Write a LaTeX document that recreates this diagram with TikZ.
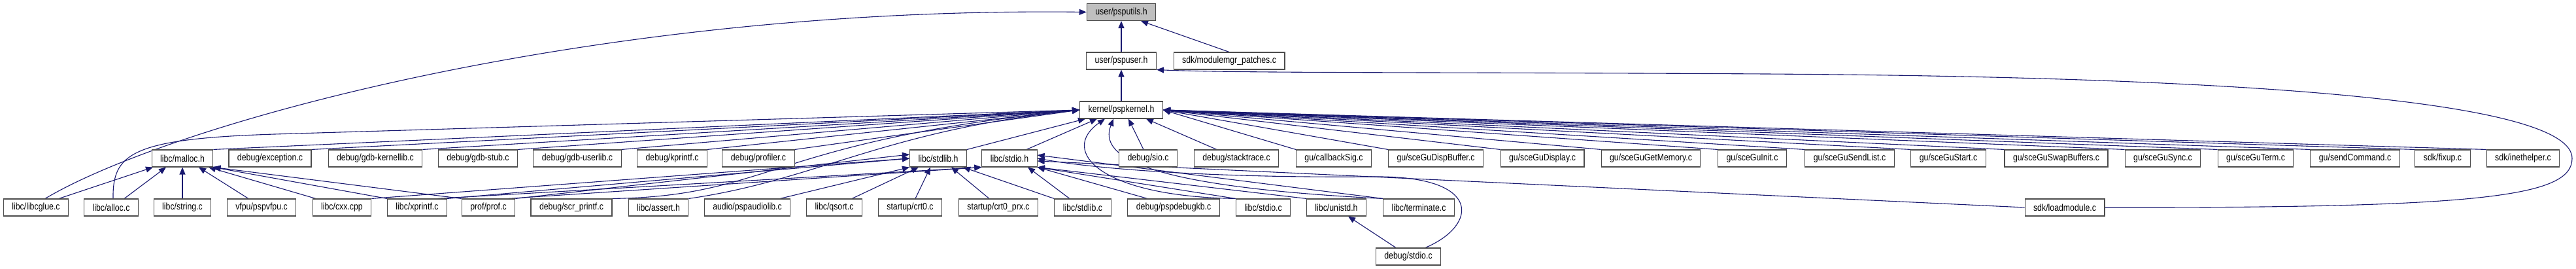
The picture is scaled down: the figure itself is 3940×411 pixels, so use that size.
\documentclass[tikz,border=0pt]{standalone}
\usepackage{fontspec}
\setmainfont{Liberation Sans}[FakeStretch=0.85]
\usepackage{tikz}
\usetikzlibrary{arrows.meta}
\definecolor{edgeblue}{HTML}{191970}
\pgfdeclarelayer{back}
\pgfsetlayers{back,main}

\begin{document}
\begin{tikzpicture}[x=1pt, y=-1pt, box/.style={draw=black!70, fill=white, line width=1.1pt, minimum height=26pt, inner xsep=13pt, inner ysep=0pt, font=\fontsize{14.5}{16}\selectfont}, dep/.style={draw=edgeblue, line width=1.1pt, -{Triangle[length=11pt, width=9pt]}}]
        \useasboundingbox (0,0) rectangle (3940,411);

        % top of the chain
        \node[box, fill=black!25] (utils) at (1715,18.5) {user/psputils.h};
        \node[box] (user) at (1715,93) {user/pspuser.h};
        \node[box] (modpatch) at (1880,93) {sdk/modulemgr\_patches.c};
        \node[box] (kernel) at (1715,168) {kernel/pspkernel.h};

        % second row
        \foreach \n/\x/\t in {malloc/279/{libc/malloc.h}, except/413/{debug/exception.c}, gdbkl/574/{debug/gdb-kernellib.c}, gdbstub/731/{debug/gdb-stub.c}, gdbul/883/{debug/gdb-userlib.c}, kprintf/1028/{debug/kprintf.c}, profiler/1160/{debug/profiler.c}, stdlibh/1435/{libc/stdlib.h}, stdioh/1544/{libc/stdio.h}, sio/1756/{debug/sio.c}, stacktr/1891/{debug/stacktrace.c}, cbsig/2040/{gu/callbackSig.c}, dispbuf/2196/{gu/sceGuDispBuffer.c}, display/2359/{gu/sceGuDisplay.c}, getmem/2525/{gu/sceGuGetMemory.c}, guinit/2680/{gu/sceGuInit.c}, sendlist/2829/{gu/sceGuSendList.c}, gustart/2980/{gu/sceGuStart.c}, swapbuf/3145/{gu/sceGuSwapBuffers.c}, gusync/3308/{gu/sceGuSync.c}, guterm/3450/{gu/sceGuTerm.c}, sendcmd/3602/{gu/sendCommand.c}, fixup/3736/{sdk/fixup.c}, inethlp/3859/{sdk/inethelper.c}}
            \node[box] (\n) at (\x,242) {\t};

        % third row
        \foreach \n/\x/\t in {libcglue/55/{libc/libcglue.c}, alloc/170/{libc/alloc.c}, string/279/{libc/string.c}, vfpu/400/{vfpu/pspvfpu.c}, cxx/523/{libc/cxx.cpp}, xprintf/638/{libc/xprintf.c}, prof/747/{prof/prof.c}, scrpf/874/{debug/scr\_printf.c}, asserth/1007/{libc/assert.h}, audio/1143/{audio/pspaudiolib.c}, qsort/1276/{libc/qsort.c}, crt0/1392/{startup/crt0.c}, crt0prx/1527/{startup/crt0\_prx.c}, stdlibc/1656/{libc/stdlib.c}, debugkb/1795/{debug/pspdebugkb.c}, stdioc/1932/{libc/stdio.c}, unistdh/2044/{libc/unistd.h}, terminate/2170/{libc/terminate.c}, loadmod/3158/{sdk/loadmodule.c}}
            \node[box] (\n) at (\x,317) {\t};

        \node[box] (dbgstdio) at (2154,392) {debug/stdio.c};

        \begin{pgfonlayer}{back}
        % psputils.h and pspuser.h
        \draw[dep] (user) -- (utils); \draw[dep] (modpatch.north) -- ([xshift=30pt]utils.south);
        \draw[dep] ([xshift=14pt]libcglue.north) .. controls (260,190) and (900,10) .. (utils.west);
        \draw[dep] (kernel) -- (user);
        \draw[dep] (loadmod.east) .. controls (3800,318) and (3934,300) .. (3934,242) .. controls (3934,160) and (3500,118) .. (2700,113) .. controls (2200,110) and (1900,112) .. (user.south east);

        % into pspkernel.h
        \foreach \s in {malloc,except,gdbkl,gdbstub,gdbul,kprintf,profiler}
            \draw[dep] (\s.north east) -- (kernel.west);
        \foreach \s in {cbsig,dispbuf,display,getmem,guinit,sendlist,gustart,swapbuf,gusync,guterm,sendcmd,fixup,inethlp}
            \draw[dep] (\s.north west) -- (kernel.east);
        \draw[dep] (stdlibh.north east) -- ([xshift=-55pt]kernel.south); \draw[dep] ([xshift=26pt]stdioh.north) -- ([xshift=-37pt]kernel.south);
        \draw[dep] ([xshift=-7pt]sio.north) -- ([xshift=11pt]kernel.south); \draw[dep] ([xshift=-30pt]stacktr.north) -- ([xshift=-26pt]kernel.south east);
        \draw[dep] ([xshift=3pt]alloc.north) .. controls (172,235) and (200,212) .. (420,205) -- (kernel.west);
        \draw[dep] (scrpf.north east) .. controls (1180,300) and (1180,215) .. (kernel.west);
        \draw[dep] (asserth.north east) .. controls (1250,275) and (1350,200) .. (kernel.west);
        \draw[dep] (stdioc.north west) .. controls (1680,300) and (1620,230) .. ([xshift=-25pt]kernel.south);
        \draw[dep] (terminate.north west) .. controls (1750,285) and (1680,240) .. ([xshift=-12pt]kernel.south);

        % into libc/malloc.h
        \draw[dep] ([xshift=35pt]libcglue.north) -- ([xshift=-45pt]malloc.south); \draw[dep] ([xshift=20pt]alloc.north) -- ([xshift=-25pt]malloc.south);
        \draw[dep] (string) -- (malloc); \draw[dep] ([xshift=-20pt]vfpu.north) -- ([xshift=25pt]malloc.south);
        \draw[dep] ([xshift=-40pt]cxx.north) -- ([xshift=40pt]malloc.south); \draw[dep] (xprintf.north west) -- (malloc.south east); \draw[dep] (prof.north west) -- (malloc.south east);

        % into libc/stdlib.h
        \draw[dep] (cxx.north east) -- (stdlibh.west); \draw[dep] (xprintf.north east) -- (stdlibh.west); \draw[dep] (prof.north east) -- ([yshift=6pt]stdlibh.west);
        \draw[dep] ([xshift=50pt]audio.north) -- (stdlibh.south west); \draw[dep] ([xshift=27pt]qsort.north) -- ([xshift=-30pt]stdlibh.south);
        \draw[dep] ([xshift=8pt]crt0.north) -- ([xshift=-12pt]stdlibh.south); \draw[dep] ([xshift=-14pt]crt0prx.north) -- ([xshift=20pt]stdlibh.south);
        \draw[dep] (stdlibc.north west) -- ([xshift=38pt]stdlibh.south);

        % into libc/stdio.h
        \draw[dep] ([xshift=30pt]xprintf.north) -- (stdioh.south west); \draw[dep] ([xshift=30pt]prof.north) -- (stdioh.south west);
        \draw[dep] ([xshift=-20pt]stdlibc.north) -- ([xshift=28pt]stdioh.south); \draw[dep] ([xshift=-40pt]debugkb.north) -- (stdioh.south east);
        \draw[dep] (stdioc.north west) -- (stdioh.south east); \draw[dep] (unistdh.north west) -- (stdioh.south east); \draw[dep] (terminate.north west) -- ([yshift=5pt]stdioh.east);
        \draw[dep] (loadmod.west) -- ([yshift=-4pt]stdioh.east);
        \draw[dep] ([xshift=26pt]dbgstdio.north) .. controls (2260,345) and (2270,268) .. (2100,270) .. controls (1900,272) and (1700,262) .. (stdioh.east);
        \draw[dep] ([xshift=-19pt]dbgstdio.north) -- ([xshift=18pt]unistdh.south);
        \end{pgfonlayer}
    \end{tikzpicture}
\end{document}
